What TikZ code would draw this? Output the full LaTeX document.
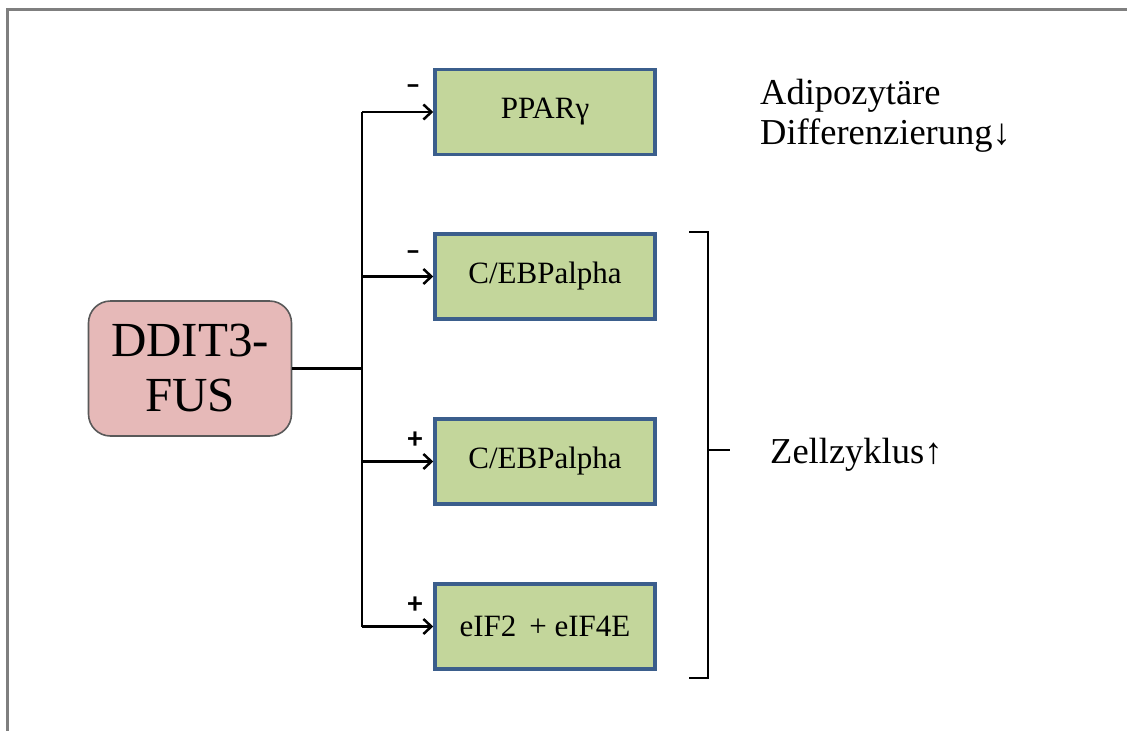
\documentclass[tikz,border=0pt]{standalone}
\usepackage{fontspec}
\setmainfont{Liberation Serif}
\newfontfamily\timesfont{Liberation Serif}
\newfontfamily\signfont{Carlito}
\usetikzlibrary{arrows.meta,positioning}
\definecolor{geneFill}{HTML}{C3D69B}
\definecolor{geneLine}{HTML}{3B5E8C}
\definecolor{fusFill}{HTML}{E6B9B8}
\definecolor{frameGrey}{HTML}{7F7F7F}
\tikzset{
  genebox/.style={draw=geneLine, line width=3.5pt, fill=geneFill,
    minimum width=220pt, minimum height=85pt, inner sep=0pt,
    font=\timesfont\fontsize{31}{36}\selectfont},
  fusbox/.style={draw=black!65, line width=1.6pt, fill=fusFill,
    rounded corners=22pt, minimum width=203pt, minimum height=135pt,
    align=center, inner sep=0pt, font=\timesfont\fontsize{49}{55}\selectfont},
  wire/.style={line width=2.5pt, draw=black},
  act/.style={wire, -{Straight Barb[length=8pt,width=15pt,line width=2.5pt]}},
  sign/.style={font=\signfont\bfseries\fontsize{30}{30}\selectfont, inner sep=0pt},
  note/.style={font=\timesfont\fontsize{36.5}{40}\selectfont, align=left, inner sep=0pt, anchor=west}
}
\begin{document}
\begin{tikzpicture}[x=1pt,y=-1pt]
  \useasboundingbox (0,0) rectangle (1127,731);
  % slide frame (top and left edges)
  \draw[frameGrey, line width=3pt] (1127,9) -- (7,9) -- (7,731);

  % source node
  \node[fusbox] (fus) at (190,368.5) {DDIT3-\\FUS};

  % target genes
  \node[genebox] (ppar) at (545,112)   {PPARγ};
  \node[genebox] (cebp1) at (545,276.5) {C/EBPalpha};
  \node[genebox] (cebp2) at (545,461.5) {C/EBPalpha};
  \node[genebox] (eif) at (545,626.5)   {eIF2 \,+ eIF4E};

  % branching connector
  \coordinate (split) at (362,368.5);
  \draw[wire] (fus.east) -- (split);
  \draw[wire] (split |- ppar.west) -- (split |- eif.west);
  \draw[act] (split |- ppar.west) -- (ppar.west);
  \draw[act] (split |- cebp1.west) -- (cebp1.west);
  \draw[act] (split |- cebp2.west) -- (cebp2.west);
  \draw[act] (split |- eif.west) -- (eif.west);

  % effect signs
  \node[sign] (s1) at (413,90)  {–};
  \node[sign] (s2) at (413,256) {–};
  \node[sign] (s3) at (415,440) {+};
  \node[sign] (s4) at (415,605) {+};

  % outcomes
  \node[note] (adi) at (760,116) {Adipozytäre\\Differenzierung↓};
  \coordinate (bTop) at (708,232);
  \coordinate (bBot) at (708,678);
  \coordinate (bMid) at (708,450);
  \draw[wire] (689,232) -- (bTop) -- (bBot) -- (689,678);
  \draw[wire] (bMid) -- ++(22,0) coordinate (bTip);
  \node[note] (zell) at (770,455) {Zellzyklus↑};
\end{tikzpicture}
\end{document}
